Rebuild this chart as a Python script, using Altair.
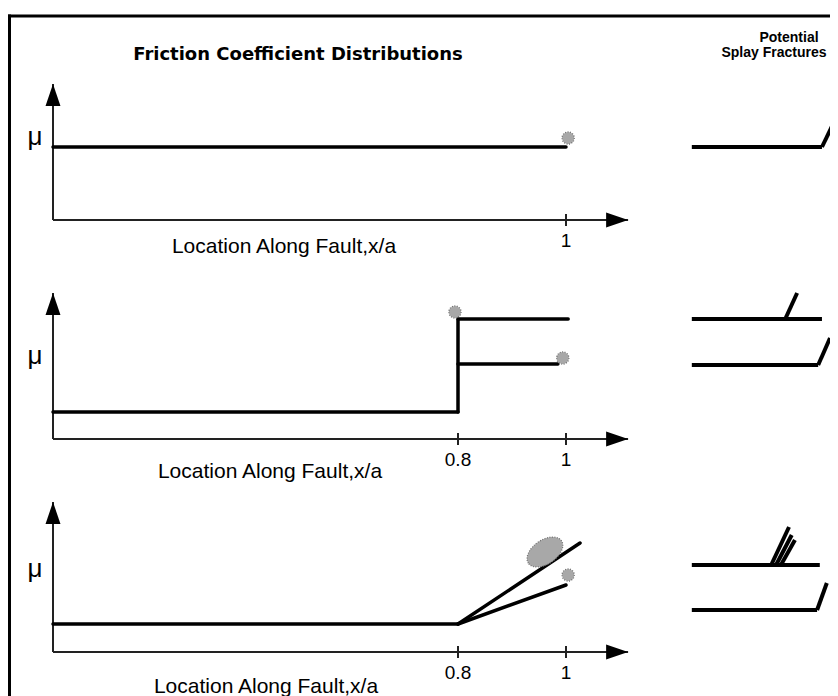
import altair as alt
import pandas as pd

# ---------------- text ----------------
TITLE_LEFT = "Friction Coefficient Distributions"
TITLE_RIGHT = ["Potential", "Splay Fractures"]
X_LABEL = "Location Along Fault,x/a"
Y_LABEL = "μ"

# ---------------- axes (x in x/a, y in relative mu units) ----------------
X_AXIS_END = 1.115
Y_AXIS_TOP = [1.36, 1.46, 1.50]
TICKS = [[1.0], [0.8, 1.0], [0.8, 1.0]]
TICK_LABELS = [["1"], ["0.8", "1"], ["0.8", "1"]]

# ---------------- friction coefficient distributions (segments) ----------------
p1_x0 = [0.0]
p1_mu0 = [0.73]
p1_x1 = [1.0]
p1_mu1 = [0.73]

p2_x0 = [0.0, 0.8, 0.8, 0.8]
p2_mu0 = [0.27, 0.27, 1.20, 0.75]
p2_x1 = [0.8, 0.8, 1.004, 0.985]
p2_mu1 = [0.27, 1.20, 1.20, 0.75]

p3_x0 = [0.0, 0.8, 0.8]
p3_mu0 = [0.28, 0.28, 0.28]
p3_x1 = [0.8, 1.026, 1.0]
p3_mu1 = [0.28, 1.09, 0.67]

# ---------------- splay nucleation spots ----------------
p1_spot_x = [1.004]
p1_spot_mu = [0.82]
p1_spot_kind = ["small"]
p2_spot_x = [0.794, 0.994]
p2_spot_mu = [1.27, 0.81]
p2_spot_kind = ["small", "small"]
p3_spot_x = [0.961, 1.004]
p3_spot_mu = [1.00, 0.77]
p3_spot_kind = ["large", "small"]

# ---------------- potential splay fracture sketches (segments) ----------------
s1_x0 = [1.233, 1.474]
s1_mu0 = [0.73, 0.73]
s1_x1 = [1.474, 1.500]
s1_mu1 = [0.73, 1.02]

s2_x0 = [1.233, 1.406, 1.233, 1.467]
s2_mu0 = [1.20, 1.20, 0.74, 0.74]
s2_x1 = [1.474, 1.428, 1.467, 1.489]
s2_mu1 = [1.20, 1.46, 0.74, 1.01]

s3_x0 = [1.233, 1.380, 1.389, 1.398, 1.233, 1.465]
s3_mu0 = [0.87, 0.87, 0.87, 0.87, 0.42, 0.42]
s3_x1 = [1.470, 1.413, 1.418, 1.424, 1.465, 1.483]
s3_mu1 = [0.87, 1.25, 1.17, 1.12, 0.42, 0.69]

# ---------------- layout (pixels, plot coordinates) ----------------
W, H = 822, 688
AXIS_PX = [212, 431, 644]
UNIT = 100

x_scale = alt.Scale(domain=[0.0, 0.8, 1.0], range=[45, 450, 558], nice=False, zero=False)


def y_scale(i):
    return alt.Scale(domain=[0, 1], range=[AXIS_PX[i], AXIS_PX[i] - UNIT], nice=False, zero=False)


def seg_df(x0, mu0, x1, mu1):
    return pd.DataFrame({"x0": x0, "mu0": mu0, "x1": x1, "mu1": mu1})


def seg_layer(df, i, width, color="black", cap="round"):
    return alt.Chart(df).mark_rule(strokeWidth=width, color=color, strokeCap=cap).encode(
        x=alt.X("x0:Q", scale=x_scale, axis=None),
        x2="x1:Q",
        y=alt.Y("mu0:Q", scale=y_scale(i), axis=None),
        y2="mu1:Q",
    )


ARROW_RIGHT = "M 0 0 L -2 -0.68 L -2 0.68 Z"
ARROW_UP = "M 0 0 L -0.68 2 L 0.68 2 Z"
ELLIPSE = "M -1 0 A 1 0.6 0 1 1 1 0 A 1 0.6 0 1 1 -1 0 Z"

FRICTION = [
    seg_df(p1_x0, p1_mu0, p1_x1, p1_mu1),
    seg_df(p2_x0, p2_mu0, p2_x1, p2_mu1),
    seg_df(p3_x0, p3_mu0, p3_x1, p3_mu1),
]
SPLAY = [
    seg_df(s1_x0, s1_mu0, s1_x1, s1_mu1),
    seg_df(s2_x0, s2_mu0, s2_x1, s2_mu1),
    seg_df(s3_x0, s3_mu0, s3_x1, s3_mu1),
]
SPOTS = [
    pd.DataFrame({"x": p1_spot_x, "mu": p1_spot_mu, "kind": p1_spot_kind}),
    pd.DataFrame({"x": p2_spot_x, "mu": p2_spot_mu, "kind": p2_spot_kind}),
    pd.DataFrame({"x": p3_spot_x, "mu": p3_spot_mu, "kind": p3_spot_kind}),
]
XLABEL_POS = [(276, 33), (262, 39), (258, 41)]


def panel(i):
    ys = y_scale(i)
    axes = seg_df([0.0, 0.0], [0.0, 0.0], [X_AXIS_END, 0.0], [0.0, Y_AXIS_TOP[i]])
    ticks = seg_df(TICKS[i], [-0.06] * len(TICKS[i]), TICKS[i], [0.06] * len(TICKS[i]))
    layers = [
        seg_layer(axes, i, 2, color="#222", cap="butt"),
        seg_layer(ticks, i, 2, color="#222", cap="butt"),
        alt.Chart(pd.DataFrame({"x": [X_AXIS_END], "mu": [0.0]})).mark_point(
            shape=ARROW_RIGHT, size=484, filled=True, color="black", opacity=1, strokeWidth=0
        ).encode(x=alt.X("x:Q", scale=x_scale, axis=None), y=alt.Y("mu:Q", scale=ys, axis=None)),
        alt.Chart(pd.DataFrame({"x": [0.0], "mu": [Y_AXIS_TOP[i]]})).mark_point(
            shape=ARROW_UP, size=484, filled=True, color="black", opacity=1, strokeWidth=0
        ).encode(x=alt.X("x:Q", scale=x_scale, axis=None), y=alt.Y("mu:Q", scale=ys, axis=None)),
        seg_layer(FRICTION[i], i, 3.5),
        seg_layer(SPLAY[i], i, 4, cap="butt"),
    ]
    spots = SPOTS[i]
    small = spots[spots["kind"] == "small"]
    large = spots[spots["kind"] == "large"]
    if len(small):
        layers.append(
            alt.Chart(small).mark_point(
                shape="circle", size=150, filled=True, color="#a8a8a8", opacity=1,
                stroke="#6e6e6e", strokeWidth=1.2, strokeDash=[1, 1.5]
            ).encode(x=alt.X("x:Q", scale=x_scale, axis=None), y=alt.Y("mu:Q", scale=ys, axis=None))
        )
    if len(large):
        layers.append(
            alt.Chart(large).mark_point(
                shape=ELLIPSE, size=1600, angle=326, filled=True, color="#a8a8a8", opacity=1,
                stroke="#6e6e6e", strokeWidth=1.2, strokeDash=[1, 1.5]
            ).encode(x=alt.X("x:Q", scale=x_scale, axis=None), y=alt.Y("mu:Q", scale=ys, axis=None))
        )
    tick_df = pd.DataFrame({"x": TICKS[i], "t": TICK_LABELS[i]})
    layers.append(
        alt.Chart(tick_df).mark_text(font="Liberation Sans", fontSize=19, align="center",
                                     baseline="alphabetic", color="black").encode(
            x=alt.X("x:Q", scale=x_scale, axis=None), y=alt.value(AXIS_PX[i] + 27), text="t:N")
    )
    cx, dy = XLABEL_POS[i]
    layers.append(
        alt.Chart(pd.DataFrame({"t": [X_LABEL]})).mark_text(
            font="Liberation Sans", fontSize=21, align="center", baseline="alphabetic", color="black"
        ).encode(x=alt.value(cx), y=alt.value(AXIS_PX[i] + dy), text="t:N")
    )
    layers.append(
        alt.Chart(pd.DataFrame({"t": [Y_LABEL]})).mark_text(
            font="Liberation Sans", fontSize=26, align="center", baseline="alphabetic", color="black"
        ).encode(x=alt.value(27), y=alt.value(AXIS_PX[i] - 75), text="t:N")
    )
    return alt.layer(*layers)


frame_df = pd.DataFrame({"k": ["frame"]})
frame = alt.layer(
    alt.Chart(frame_df).mark_rule(color="black", strokeWidth=3).encode(
        x=alt.value(1.5), y=alt.value(6.5), y2=alt.value(H)),
    alt.Chart(frame_df).mark_rule(color="black", strokeWidth=3).encode(
        x=alt.value(0), x2=alt.value(W), y=alt.value(8)),
    alt.Chart(pd.DataFrame({"t": [TITLE_LEFT]})).mark_text(
        font="DejaVu Sans", fontWeight="bold", fontSize=18, align="center", baseline="alphabetic",
        color="black").encode(x=alt.value(290), y=alt.value(52), text="t:N"),
    alt.Chart(pd.DataFrame({"t": [TITLE_RIGHT[0]]})).mark_text(
        font="Liberation Sans", fontWeight="bold", fontSize=14, align="center", baseline="alphabetic",
        color="black").encode(x=alt.value(781), y=alt.value(34), text="t:N"),
    alt.Chart(pd.DataFrame({"t": [TITLE_RIGHT[1]]})).mark_text(
        font="Liberation Sans", fontWeight="bold", fontSize=14, align="center", baseline="alphabetic",
        color="black").encode(x=alt.value(766), y=alt.value(49), text="t:N"),
)

chart = alt.layer(panel(0), panel(1), panel(2), frame).resolve_scale(y="independent").properties(
    width=W, height=H, padding=0, autosize=alt.AutoSizeParams(type="none"), background="white"
).configure_view(stroke=None)

chart.save("out.html", embed_options={"renderer": "svg", "actions": False})
